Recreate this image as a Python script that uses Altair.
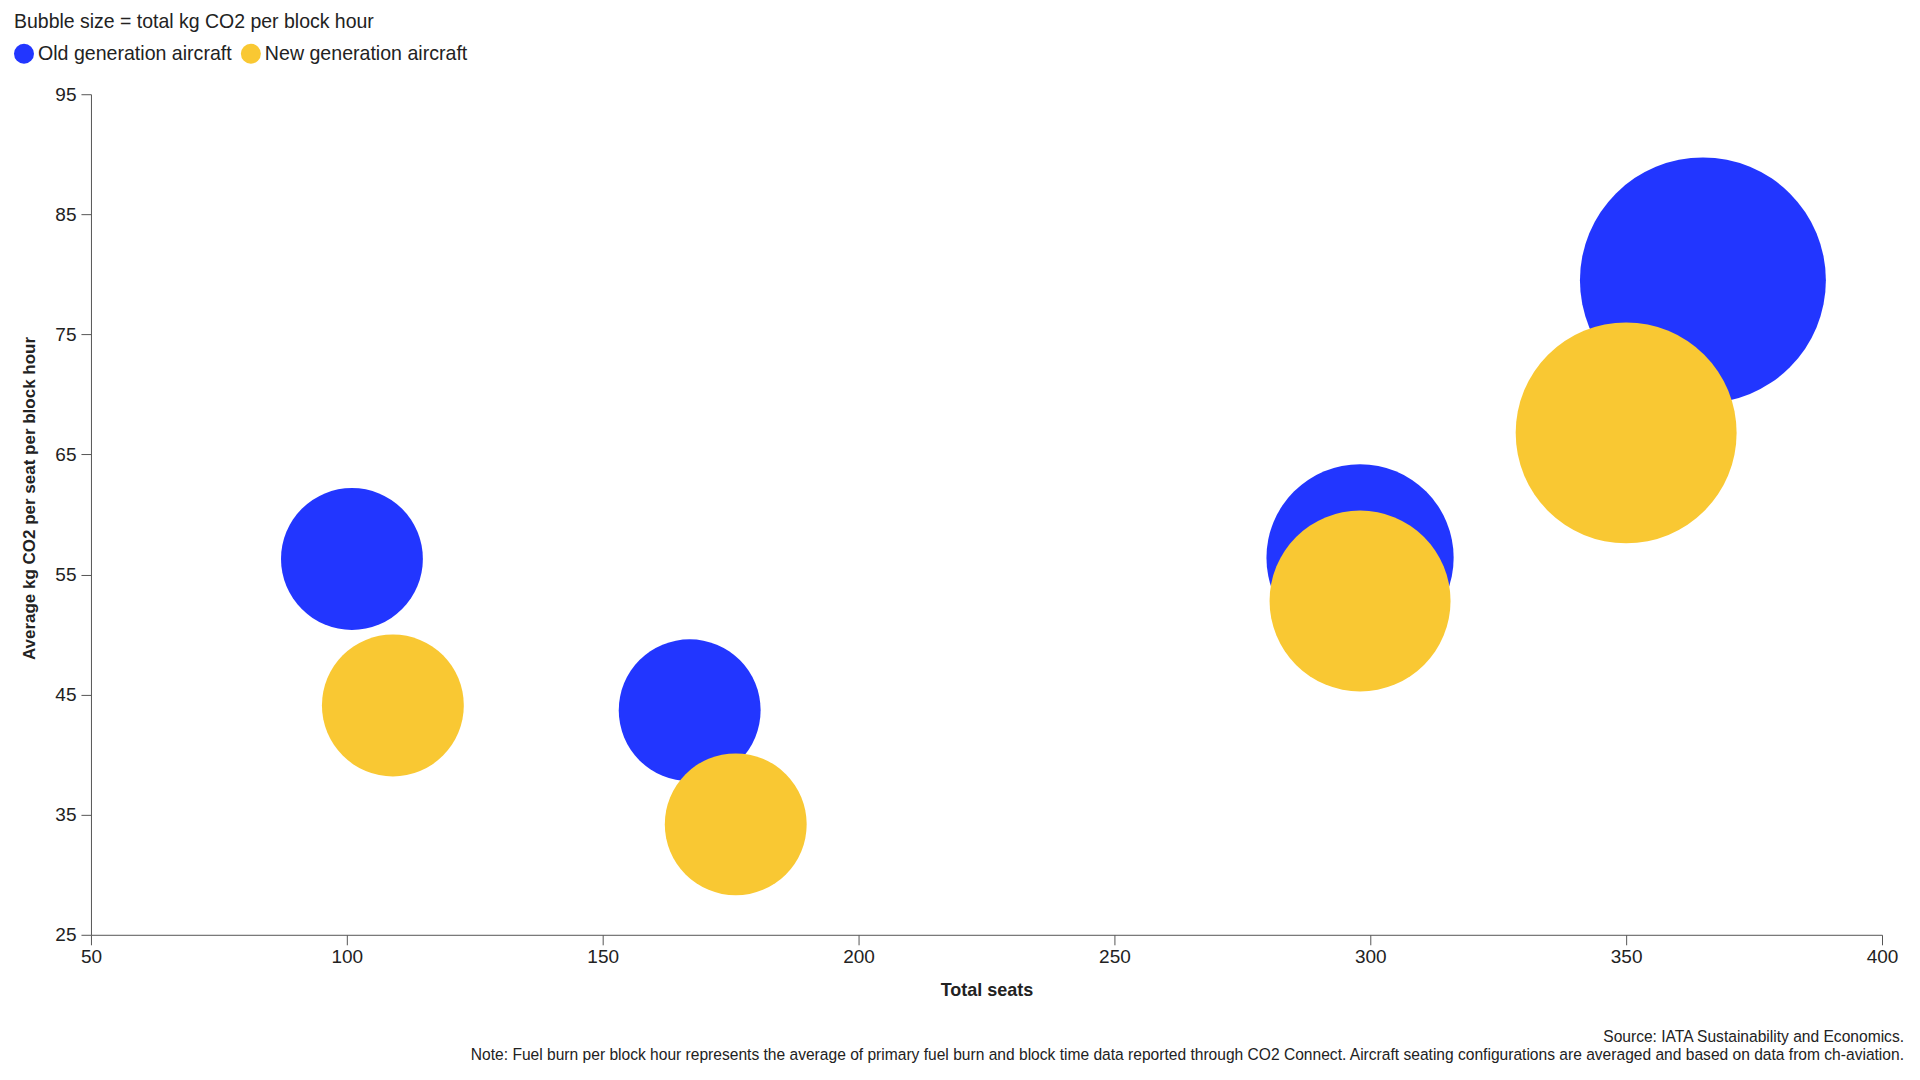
import altair as alt
import pandas as pd

# ---- data ----
generations = ["Old generation aircraft", "New generation aircraft"]

old_seats = [101, 167, 298, 365]
old_avg_co2 = [56.3, 43.7, 56.4, 79.5]
old_total = [5700, 7300, 16800, 29000]

new_seats = [109, 176, 298, 350]
new_avg_co2 = [44.1, 34.2, 52.8, 66.8]
new_total = [4800, 6000, 15700, 23400]

x_ticks = [50, 100, 150, 200, 250, 300, 350, 400]
y_ticks = [25, 35, 45, 55, 65, 75, 85, 95]

rows = []
for s, a, t in zip(old_seats, old_avg_co2, old_total):
    rows.append({"gen": generations[0], "seats": s, "avg": a, "total": t, "rank": 0})
for s, a, t in zip(new_seats, new_avg_co2, new_total):
    rows.append({"gen": generations[1], "seats": s, "avg": a, "total": t, "rank": 1})
df = pd.DataFrame(rows)

FONT = "Liberation Sans"
TXT = "#222222"
AX = "#555555"

chart = (
    alt.Chart(df)
    .mark_circle(opacity=1, strokeWidth=0)
    .encode(
        x=alt.X(
            "seats:Q",
            scale=alt.Scale(domain=[50, 400], nice=False, zero=False),
            axis=alt.Axis(
                title="Total seats",
                values=x_ticks,
                grid=False,
                labelFlush=False,
                labelFontSize=19,
                labelPadding=3,
                tickSize=10,
                titleFontSize=18,
                titleFontWeight="bold",
                titlePadding=15,
            ),
        ),
        y=alt.Y(
            "avg:Q",
            scale=alt.Scale(domain=[25, 95], nice=False, zero=False),
            axis=alt.Axis(
                title="Average kg CO2 per seat per block hour",
                values=y_ticks,
                grid=False,
                labelFlush=False,
                labelFontSize=19,
                labelPadding=5,
                tickSize=10,
                titleFontSize=17,
                titleFontWeight="bold",
                titlePadding=16,
                titleY=404,
            ),
        ),
        size=alt.Size(
            "total:Q",
            scale=alt.Scale(domain=[9650, 30000], range=[20150, 62640], clamp=True, zero=False),
            legend=None,
        ),
        color=alt.Color(
            "gen:N",
            scale=alt.Scale(domain=generations, range=["#2236ff", "#f9c833"]),
            legend=alt.Legend(
                title="Bubble size = total kg CO2 per block hour",
                orient="none",
                legendX=-77,
                legendY=-81,
                direction="horizontal",
                columns=2,
                columnPadding=9,
                symbolType="circle",
                symbolSize=400,
                symbolStrokeWidth=0,
                symbolOpacity=1,
                labelOffset=4,
                labelFontSize=19.6,
                labelColor=TXT,
                labelFont=FONT,
                titleFontSize=19.5,
                titleFontWeight="normal",
                titleColor=TXT,
                titleFont=FONT,
                titlePadding=11,
                labelLimit=400,
                titleLimit=800,
            ),
        ),
        order=alt.Order("rank:Q"),
    )
    .properties(
        width=1792,
        height=841,
        autosize=alt.AutoSizeParams(type="none"),
        padding={"left": 83, "top": 86, "right": 30, "bottom": 135},
        title=alt.TitleParams(
            text="Source: IATA Sustainability and Economics.",
            subtitle="Note: Fuel burn per block hour represents the average of primary fuel burn and block time data reported through CO2 Connect. Aircraft seating configurations are averaged and based on data from ch-aviation.",
            orient="bottom",
            anchor="end",
            frame="group",
            fontSize=15.6,
            subtitleFontSize=15.6,
            fontWeight="normal",
            color=TXT,
            subtitleColor=TXT,
            font=FONT,
            subtitleFont=FONT,
            offset=30,
            subtitlePadding=3,
            dx=22,
        ),
    )
    .configure(font=FONT)
    .configure_view(stroke=None)
    .configure_axis(
        domainColor=AX,
        tickColor=AX,
        labelColor=TXT,
        titleColor=TXT,
        labelFont=FONT,
        titleFont=FONT,
    )
)

chart.save("out.html", embed_options={"renderer": "svg", "actions": False})
